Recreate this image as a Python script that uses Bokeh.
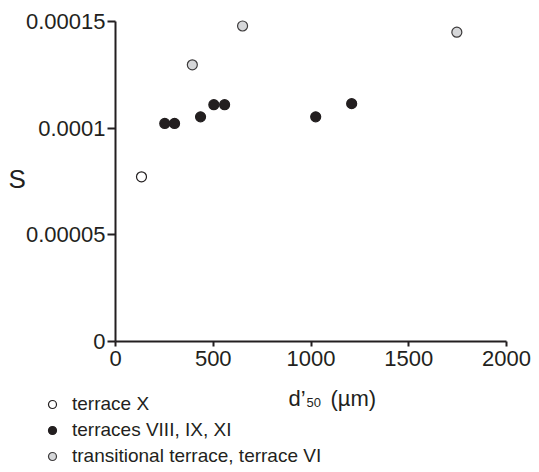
from bokeh.plotting import figure
from bokeh.models import (Range1d, FixedTicker, CustomJSTickFormatter, Label,
                          Legend, LegendItem, LinearAxis)
from bokeh.embed import file_html
from bokeh.resources import INLINE

# ---- data (d'50 in µm, S dimensionless) ----
terrace_x_d50 = [133]
terrace_x_S = [0.0000772]

terraces_viii_d50 = [252, 302, 435, 503, 558, 1024, 1208]
terraces_viii_S = [0.0001022, 0.0001022, 0.0001053, 0.000111, 0.000111, 0.0001053, 0.0001115]

transitional_d50 = [393, 650, 1746]
transitional_S = [0.0001297, 0.0001479, 0.000145]

x_ticks = [0, 500, 1000, 1500, 2000]
y_ticks = [0, 0.00005, 0.0001, 0.00015]

legend_labels = ["terrace X", "terraces VIII, IX, XI", "transitional terrace, terrace VI"]

INK = "#231f20"
FONT = "Liberation Sans"

W, H = 539, 472
# frame spans the whole canvas; axes are pinned at 0 with fixed_location
px_x = 391 / 2000.0          # pixels per µm
px_y = 320 / 0.00015         # pixels per unit S
x0_px, y0_px = 115, 341      # canvas position of the origin
x_range = Range1d(-x0_px / px_x, (W - x0_px) / px_x)
y_range = Range1d(-(H - y0_px) / px_y, y0_px / px_y)

p = figure(width=W, height=H, output_backend="svg", toolbar_location=None,
           x_range=x_range, y_range=y_range,
           x_axis_location=None, y_axis_location=None,
           min_border=0, min_border_left=0, min_border_right=0,
           min_border_top=0, min_border_bottom=0)
p.outline_line_color = None
p.xgrid.visible = False
p.ygrid.visible = False
p.background_fill_color = "white"
p.border_fill_color = "white"

fmt = CustomJSTickFormatter(code="return tick.toString();")
xaxis = LinearAxis(fixed_location=0, bounds=(x_ticks[0], x_ticks[-1]),
                   ticker=FixedTicker(ticks=x_ticks), formatter=fmt)
yaxis = LinearAxis(fixed_location=0, bounds=(y_ticks[0], y_ticks[-1]),
                   ticker=FixedTicker(ticks=y_ticks), formatter=fmt)
for ax in (xaxis, yaxis):
    ax.axis_line_width = 2
    ax.axis_line_color = INK
    ax.major_tick_line_width = 2
    ax.major_tick_line_color = INK
    ax.minor_tick_line_color = None
    ax.major_tick_in = 0
    ax.major_label_text_font = FONT
    ax.major_label_text_font_size = "22px"
    ax.major_label_text_color = INK
xaxis.major_tick_out = 5
xaxis.major_label_standoff = 4
yaxis.major_tick_out = 8
yaxis.major_label_standoff = 2
p.add_layout(xaxis, "below")
p.add_layout(yaxis, "left")

r1 = p.scatter(terrace_x_d50, terrace_x_S, size=10, marker="circle",
               fill_color="white", line_color=INK, line_width=1.2)
r2 = p.scatter(terraces_viii_d50, terraces_viii_S, size=10, marker="circle",
               fill_color=INK, line_color=INK, line_width=1.2)
r3 = p.scatter(transitional_d50, transitional_S, size=10, marker="circle",
               fill_color="#d6d7d9", line_color="#3d3b3c", line_width=1.2)

legend = Legend(items=[LegendItem(label=legend_labels[0], renderers=[r1]),
                       LegendItem(label=legend_labels[1], renderers=[r2]),
                       LegendItem(label=legend_labels[2], renderers=[r3])],
                location=(42, 5), orientation="vertical",
                padding=0, margin=0, spacing=4,
                glyph_width=20, glyph_height=20, label_height=20,
                label_standoff=10, border_line_color=None,
                background_fill_alpha=0,
                label_text_font=FONT, label_text_font_size="19px",
                label_text_color=INK, label_text_baseline="middle")
p.add_layout(legend, "center")

# axis titles as text (screen units from canvas bottom-left)
def lab(x, y, text, size):
    p.add_layout(Label(x=x, y=H - y, x_units="screen", y_units="screen", text=text,
                       text_font=FONT, text_font_size=size, text_color=INK,
                       text_baseline="alphabetic"))

lab(8, 178, "S", "26px")
lab(288, 398, "d\u2019", "22px")
lab(306, 402, "50", "13px")
lab(330, 398, "(\u00b5m)", "22px")

open("out.html", "w").write(file_html(p, INLINE))
